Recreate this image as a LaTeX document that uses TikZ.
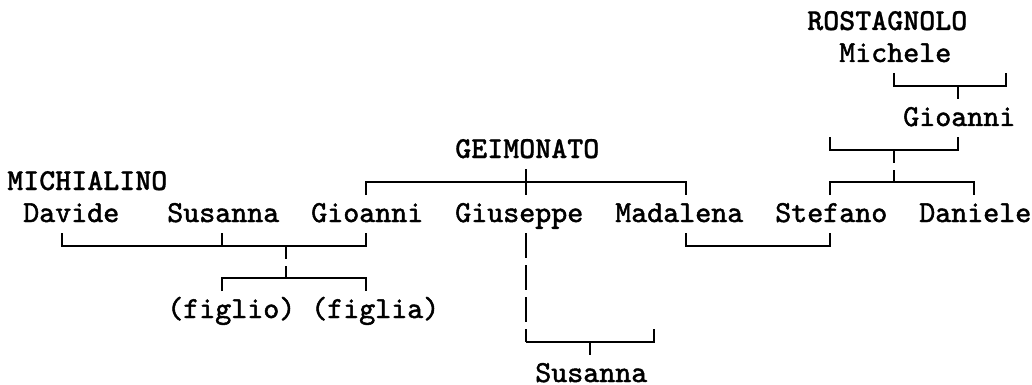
\documentclass[tikz,border=0pt]{standalone}
\usepackage{fontspec}
\newfontfamily\namefont{lmmono10-regular}[Extension=.otf,FakeBold=1.6]
\newfontfamily\housefont{lmmonolt10-bold}[Extension=.otf,FakeBold=0.8]
\usepackage{tikz}
\tikzset{
  kin/.style={line width=1.4pt},
  gen/.style={kin,dash pattern=on 18.75pt off 5.25pt,dash phase=#1},
  person/.style={anchor=base west,inner sep=0pt,font=\namefont\fontsize{22.86}{26}\selectfont},
  house/.style={person,font=\housefont\fontsize{22.86}{26}\selectfont}
}
\begin{document}
\begin{tikzpicture}[x=0.75pt,y=-0.75pt]
  \useasboundingbox (0,0) rectangle (1032,385);
  \def\up{9.75pt}% length of a short tick
  % people: name/column/row/text
  \foreach \nm/\c/\r/\lab in {mic/52/1/Michele, gioR/56/3/Gioanni, dav/1/6/Davide, sus/10/6/Susanna, gioM/19/6/Gioanni, giu/28/6/Giuseppe, mad/38/6/Madalena, ste/48/6/Stefano, dan/57/6/Daniele, son/10/9/{(figlio)}, dau/19/9/{(figlia)}, susG/33/11/Susanna}
    \node[person] (\nm) at ({7+16*\c},{30+32*\r}) {\lab};
  % family names
  \foreach \nm/\c/\r/\lab in {rost/50/0/ROSTAGNOLO, geim/28/4/GEIMONATO, mich/0/5/MICHIALINO}
    \node[house] (\nm) at ({7+16*\c},{30+32*\r}) {\lab};
  % junctions on the line grid
  \foreach \nm/\c/\r in {jr1/55/2, jr2/62/2, jrc/59/2, jg1/51/4, jg2/59/4, jgc/55/4, js1/51/5, js2/60/5, jsc/55/5,
      jm1/22/5, jm2/42/5, jmc/32/5, jd1/3/7, jd2/13/7, jd3/22/7, jdc/17/7, jf1/13/8, jf2/22/8, jfc/17/8,
      jw1/42/7, jw2/51/7, jp0/32/7, jp1/32/10, jp2/40/10, jpc/36/10}
    \coordinate (\nm) at ({14+16*\c},{22+32*\r});

  % ROSTAGNOLO
  \draw[kin] ([yshift=\up]jr1) -- (jr1) -- (jr2) -- ([yshift=\up]jr2);
  \draw[kin] (jrc) -- ([yshift=-\up]jrc);
  \draw[kin] ([yshift=\up]jg1) -- (jg1) -- (jg2) -- ([yshift=\up]jg2);
  \draw[gen=9pt] (jgc) -- (jsc);
  \draw[kin] ([yshift=-\up]js1) -- (js1) -- (js2) -- ([yshift=-\up]js2);
  % GEIMONATO
  \draw[kin] ([yshift=-\up]jm1) -- (jm1) -- (jm2) -- ([yshift=-\up]jm2);
  \draw[kin] ([yshift=\up]jmc) -- ([yshift=-\up]jmc);
  \draw[kin] ([yshift=\up]jw1) -- (jw1) -- (jw2) -- ([yshift=\up]jw2);
  \draw[gen=0pt] ([yshift=\up]jp0) -- (jp1);
  \draw[kin] (jp1) -- (jp2) -- ([yshift=\up]jp2);
  \draw[kin] (jpc) -- ([yshift=-\up]jpc);
  % MICHIALINO
  \draw[kin] ([yshift=\up]jd1) -- (jd1) -- (jd3) -- ([yshift=\up]jd3);
  \draw[kin] (jd2) -- ([yshift=\up]jd2);
  \draw[gen=9pt] (jdc) -- (jfc);
  \draw[kin] ([yshift=-\up]jf1) -- (jf1) -- (jf2) -- ([yshift=-\up]jf2);
\end{tikzpicture}
\end{document}
